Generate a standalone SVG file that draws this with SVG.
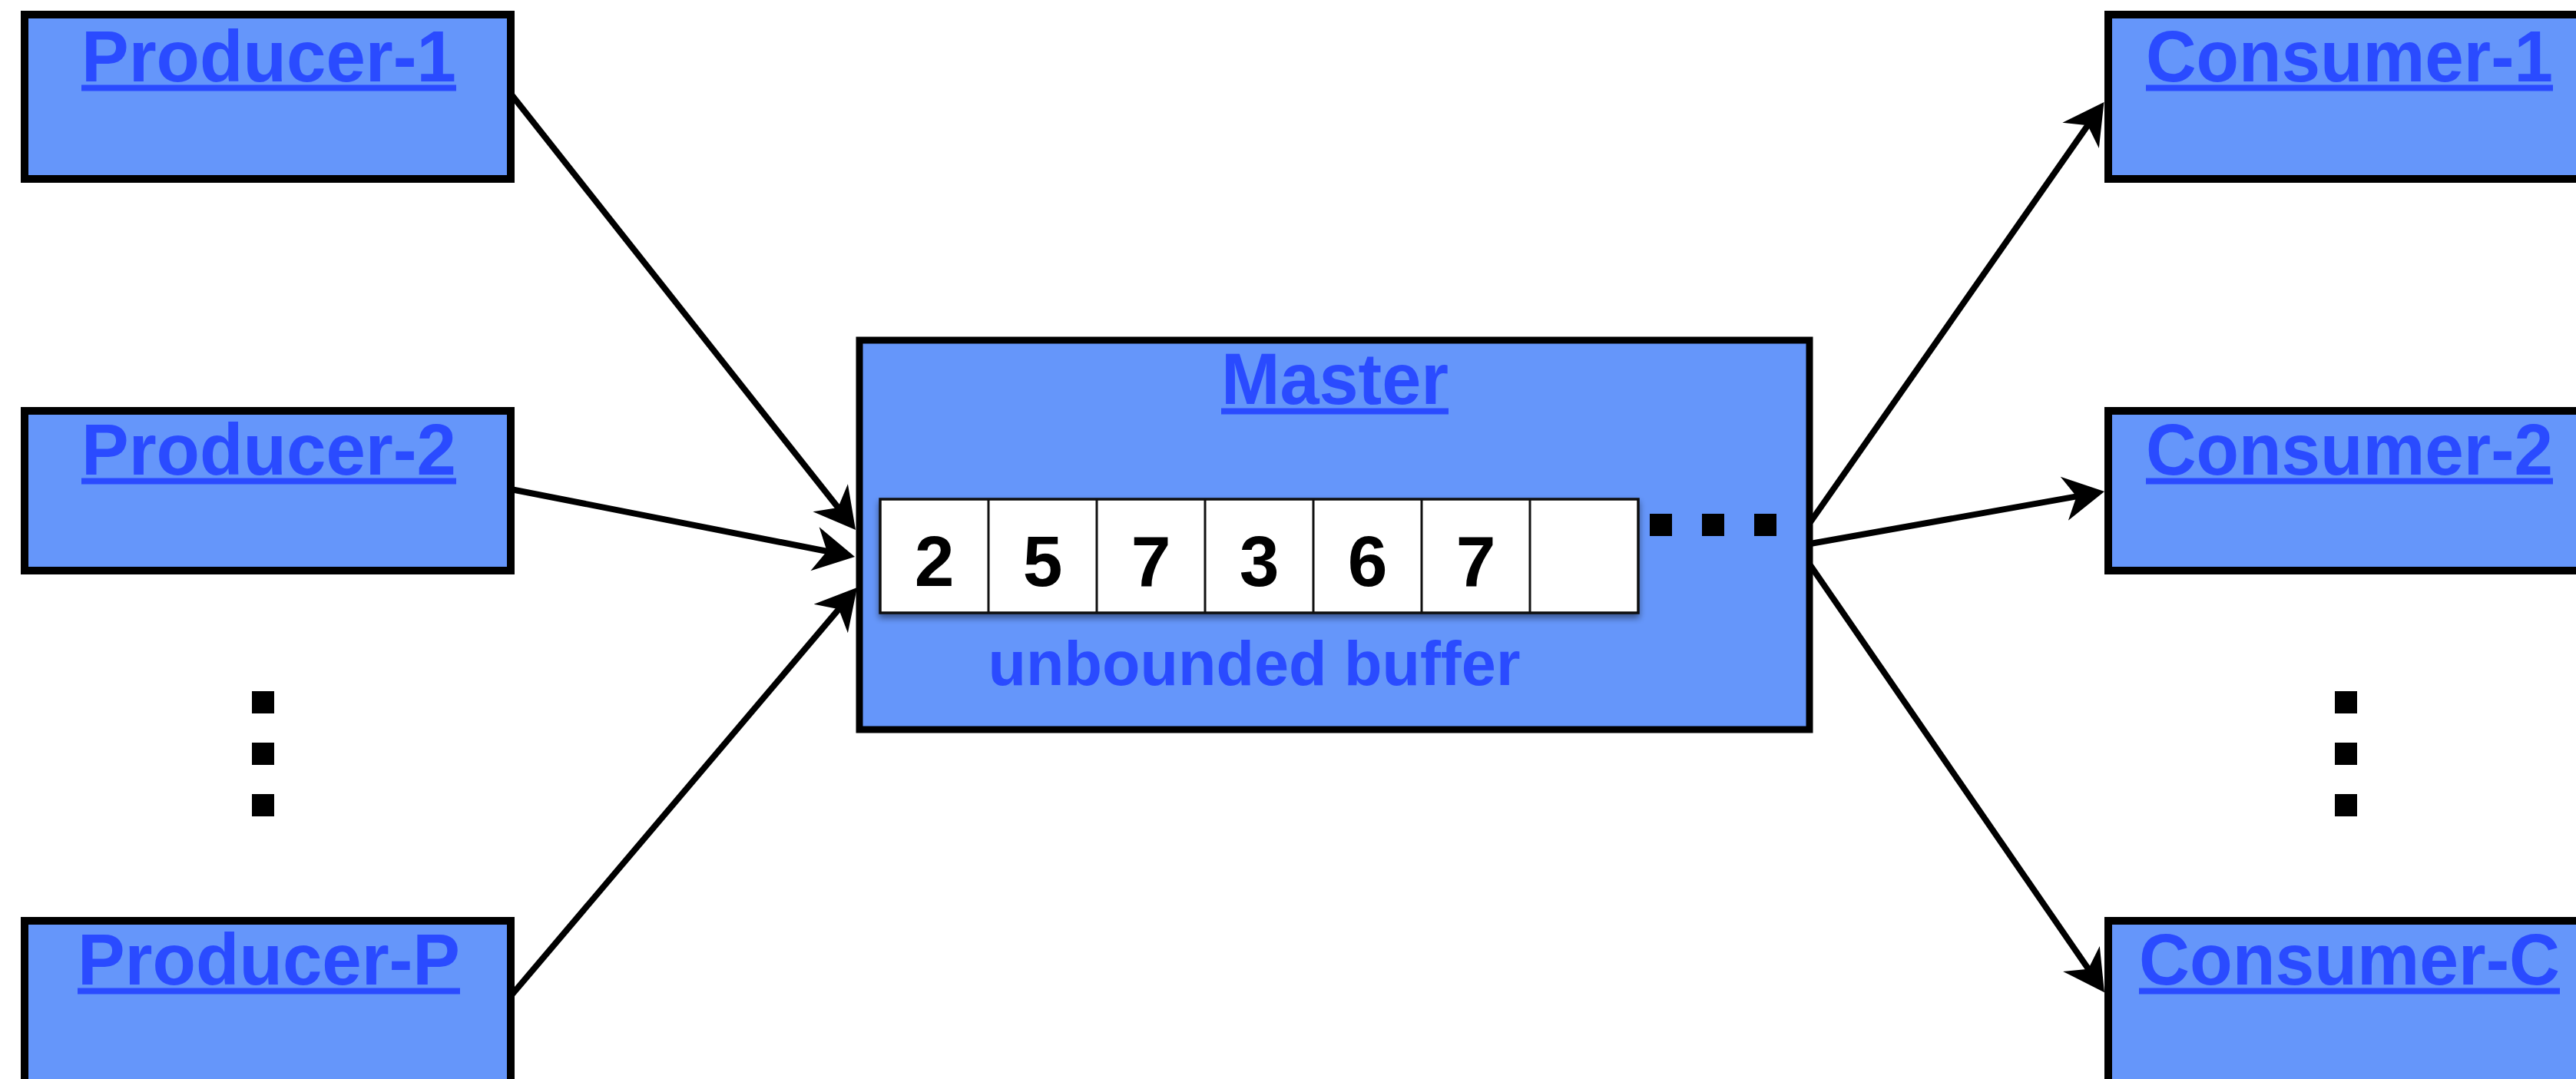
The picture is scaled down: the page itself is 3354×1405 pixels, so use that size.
<svg xmlns="http://www.w3.org/2000/svg" width="3354" height="1405" viewBox="0 0 3354 1405">
  <style>
    .box { fill: #6596FA; stroke: #000; stroke-width: 10; }
    .title { font-family: "Liberation Sans", Arial, Helvetica, sans-serif; font-weight: bold; font-size: 95px; fill: #2A4BFF; text-anchor: middle; }
    .ul { fill: #2A4BFF; }
    .cell { fill: #fff; stroke: #111; stroke-width: 3.5; }
    .divider { stroke: #111; stroke-width: 3; }
    .digit { font-family: "Liberation Sans", Arial, Helvetica, sans-serif; font-weight: bold; font-size: 93px; fill: #000; text-anchor: middle; }
    .caption { font-family: "Liberation Sans", Arial, Helvetica, sans-serif; font-weight: bold; font-size: 81px; fill: #2A4BFF; text-anchor: middle; }
    .conn { stroke: #000; stroke-width: 8; fill: none; marker-end: url(#arrow); }
    .tail { fill: #000; }
    .dot { fill: #000; }
  </style>
  <defs>
    <marker id="arrow" markerUnits="userSpaceOnUse" markerWidth="80" markerHeight="80" refX="0" refY="0" orient="auto" overflow="visible">
      <path d="M31,0 L-22,-29 L-6,0 L-22,29 Z" fill="#000"/>
    </marker>
    <filter id="shadow" x="-5%" y="-20%" width="110%" height="150%">
      <feGaussianBlur in="SourceAlpha" stdDeviation="4"/>
      <feOffset dx="0" dy="5" result="off"/>
      <feComponentTransfer><feFuncA type="linear" slope="0.45"/></feComponentTransfer>
      <feMerge><feMergeNode/><feMergeNode in="SourceGraphic"/></feMerge>
    </filter>
  </defs>

  <rect width="3354" height="1405" fill="#fff"/>

  <!-- arrows: producers into the master, master out to consumers -->
  <g id="connectors">
    <line class="conn" x1="665" y1="122" x2="1094.8" y2="665.6"/>
    <line class="conn" x1="665" y1="637" x2="1082.6" y2="719.0"/>
    <line class="conn" x1="665" y1="1297" x2="1096.0" y2="788.6"/>
    <line class="conn" x1="2357" y1="680" x2="2721.7" y2="158.4"/>
    <line class="conn" x1="2357" y1="708" x2="2709.5" y2="645.4"/>
    <line class="conn" x1="2357" y1="736" x2="2722.4" y2="1266.6"/>
    <!-- small tail nubs where the outgoing arrows leave the master -->
    <polygon class="tail" points="2342,686 2354,677 2354,694"/>
    <polygon class="tail" points="2345,708 2354,701 2354,715"/>
    <polygon class="tail" points="2342,731 2354,723 2354,740"/>
  </g>

  <g id="producer-1">
    <rect class="box" x="32" y="19" width="633" height="214"/>
    <text class="title" x="350" y="106" textLength="488" lengthAdjust="spacingAndGlyphs">Producer-1</text>
    <rect class="ul" x="106" y="110.5" width="488" height="8"/>
  </g>

  <g id="producer-2">
    <rect class="box" x="32" y="535" width="633" height="208"/>
    <text class="title" x="350" y="618" textLength="488" lengthAdjust="spacingAndGlyphs">Producer-2</text>
    <rect class="ul" x="106" y="622.5" width="488" height="8"/>
  </g>

  <g id="producer-p">
    <rect class="box" x="32" y="1199" width="633" height="220"/>
    <text class="title" x="350" y="1282" textLength="498" lengthAdjust="spacingAndGlyphs">Producer-P</text>
    <rect class="ul" x="101" y="1286.5" width="498" height="8"/>
  </g>

  <!-- vertical ellipsis between producers -->
  <g id="producer-ellipsis">
    <rect class="dot" x="328" y="900" width="29" height="29"/>
    <rect class="dot" x="328" y="967" width="29" height="29"/>
    <rect class="dot" x="328" y="1034" width="29" height="29"/>
  </g>

  <g id="master">
    <rect class="box" x="1119" y="443" width="1237" height="507" style="stroke-width:9"/>
    <text class="title" x="1738" y="526" textLength="296" lengthAdjust="spacingAndGlyphs">Master</text>
    <rect class="ul" x="1590" y="531.5" width="296" height="8"/>

    <g id="buffer">
      <rect class="cell" x="1146" y="650" width="987" height="148" filter="url(#shadow)"/>
      <line class="divider" x1="1287" y1="650" x2="1287" y2="798"/>
      <line class="divider" x1="1428" y1="650" x2="1428" y2="798"/>
      <line class="divider" x1="1569" y1="650" x2="1569" y2="798"/>
      <line class="divider" x1="1710" y1="650" x2="1710" y2="798"/>
      <line class="divider" x1="1851" y1="650" x2="1851" y2="798"/>
      <line class="divider" x1="1992" y1="650" x2="1992" y2="798"/>
      <text class="digit" x="1216.5" y="763">2</text>
      <text class="digit" x="1357.5" y="763">5</text>
      <text class="digit" x="1498.5" y="763">7</text>
      <text class="digit" x="1639.5" y="763">3</text>
      <text class="digit" x="1780.5" y="763">6</text>
      <text class="digit" x="1921.5" y="763">7</text>
      <rect class="dot" x="2148" y="669" width="29" height="29"/>
      <rect class="dot" x="2216" y="669" width="29" height="29"/>
      <rect class="dot" x="2284" y="669" width="29" height="29"/>
    </g>
    <text class="caption" x="1633" y="892">unbounded buffer</text>
  </g>

  <g id="consumer-1">
    <rect class="box" x="2745" y="19" width="633" height="214"/>
    <text class="title" x="3059" y="106" textLength="530" lengthAdjust="spacingAndGlyphs">Consumer-1</text>
    <rect class="ul" x="2794" y="110.5" width="530" height="8"/>
  </g>

  <g id="consumer-2">
    <rect class="box" x="2745" y="535" width="633" height="208"/>
    <text class="title" x="3059" y="618" textLength="530" lengthAdjust="spacingAndGlyphs">Consumer-2</text>
    <rect class="ul" x="2794" y="622.5" width="530" height="8"/>
  </g>

  <g id="consumer-c">
    <rect class="box" x="2745" y="1199" width="633" height="220"/>
    <text class="title" x="3059" y="1282" textLength="548" lengthAdjust="spacingAndGlyphs">Consumer-C</text>
    <rect class="ul" x="2785" y="1286.5" width="548" height="8"/>
  </g>

  <!-- vertical ellipsis between consumers -->
  <g id="consumer-ellipsis">
    <rect class="dot" x="3040" y="900" width="29" height="29"/>
    <rect class="dot" x="3040" y="967" width="29" height="29"/>
    <rect class="dot" x="3040" y="1034" width="29" height="29"/>
  </g>
</svg>
